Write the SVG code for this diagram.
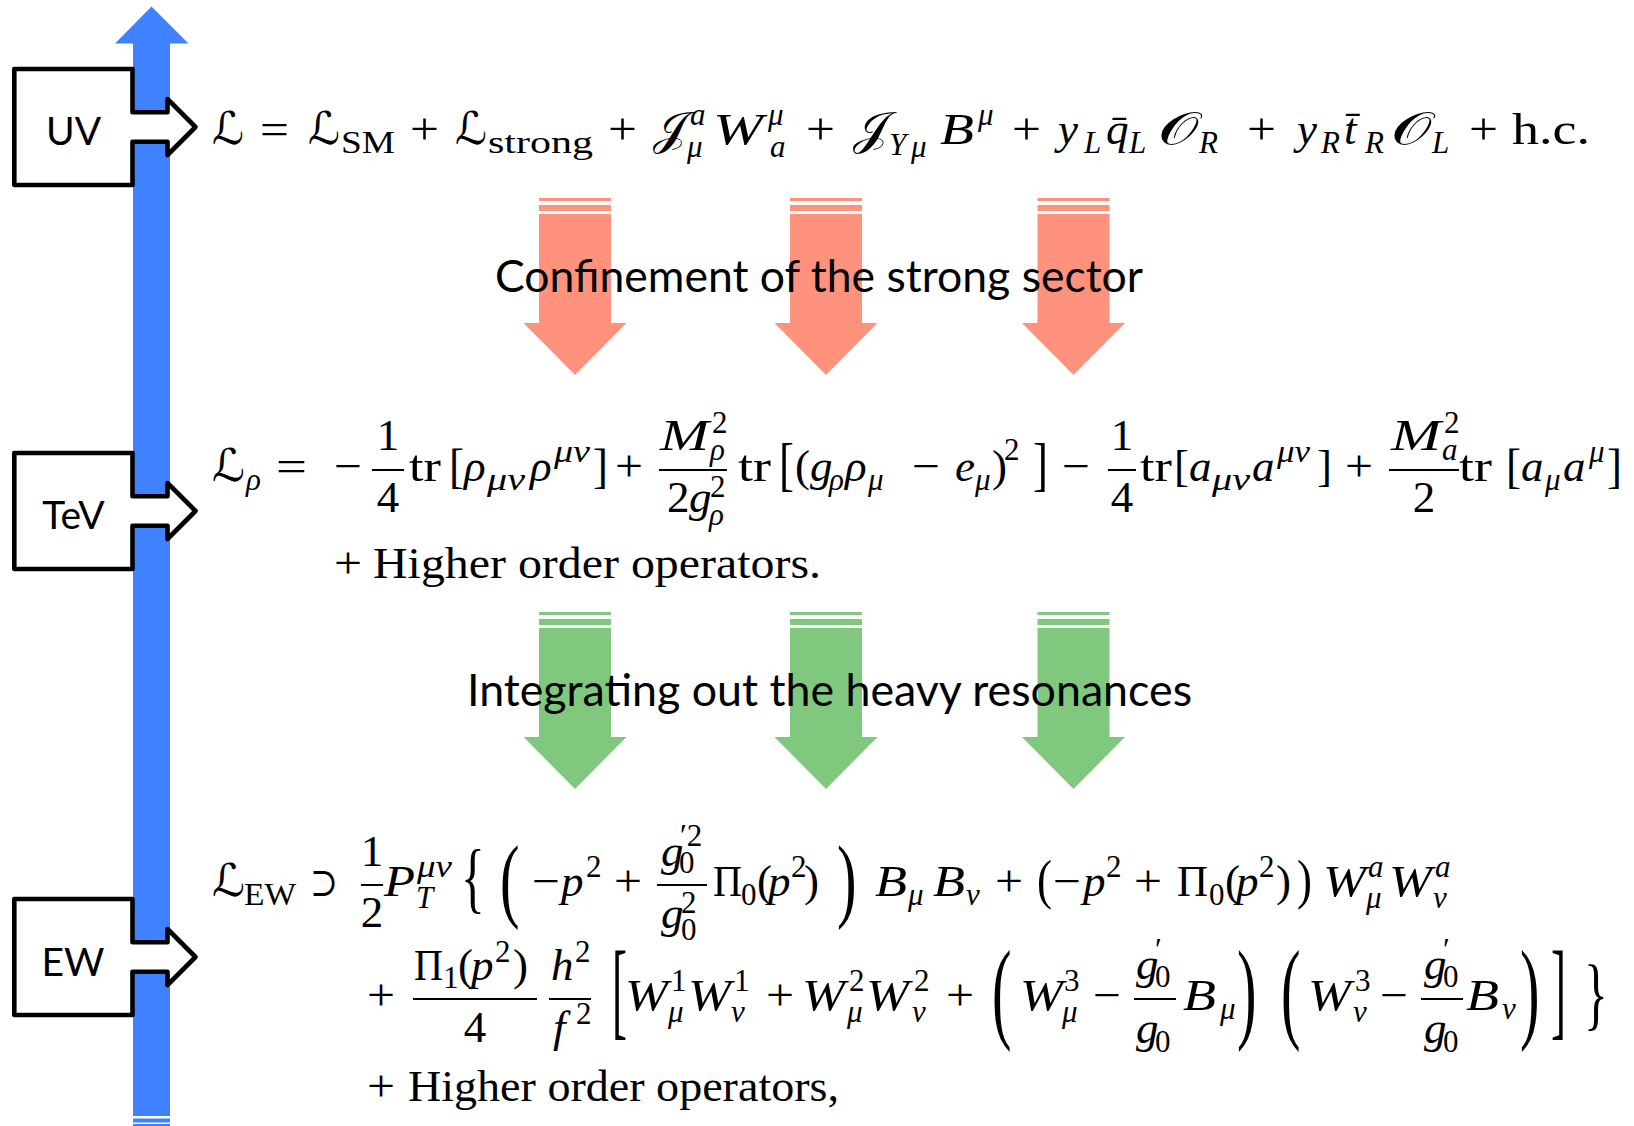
<svg xmlns="http://www.w3.org/2000/svg" xmlns:xlink="http://www.w3.org/1999/xlink" width="1634" height="1126" viewBox="0 0 1634 1126">
<style>
.r{font-family:"Liberation Serif",serif;font-size:45px;font-style:normal;fill:#000}
.i{font-family:"Liberation Serif",serif;font-style:italic;font-size:45px;fill:#000}
.rs{font-family:"Liberation Serif",serif;font-style:normal;font-size:31px;fill:#000}
.is{font-family:"Liberation Serif",serif;font-style:italic;font-size:31px;fill:#000}
.sc{font-family:"DejaVu Serif","DejaVu Sans","Noto Sans",serif;font-size:45px;fill:#000}
.sy{font-family:"DejaVu Serif","DejaVu Sans",serif;font-size:40px;fill:#000}
.lbl{font-family:Lato,"Open Sans",sans-serif;font-size:39px;fill:#000}
.cap{font-family:Lato,"Open Sans",sans-serif;font-size:45px;fill:#000}
.bar{fill:#000}
.box{fill:#fff;stroke:#000;stroke-width:4.6;stroke-linejoin:round}
</style>
<defs>
<path id="callout" d="M14.3,-58 H132.5 V-14.7 H167.5 V-28 L195.5,0 L167.5,28 V14.7 H132.5 V58 H14.3 Z"/>
<g id="dnArrow"><rect x="-36" y="0" width="72" height="3"/><rect x="-36" y="7" width="72" height="6"/><path d="M-36,16 H36 V125 H51.5 L0,177 L-51.5,125 H-36 Z"/></g>
</defs>
<rect width="1634" height="1126" fill="#fff"/>

<g id="scale-axis" fill="#4081ff">
<path d="M133,1116 V43.5 H115 L151.5,6.5 L188.5,43.5 H170 V1116 Z"/>
<rect x="133" y="1118.5" width="37" height="4"/>
<rect x="133" y="1124" width="37" height="2"/>
</g>

<g id="connectors">
<g fill="#ff927c">
<use xlink:href="#dnArrow" transform="translate(575,198)"/>
<use xlink:href="#dnArrow" transform="translate(826,198)"/>
<use xlink:href="#dnArrow" transform="translate(1073.5,198)"/>
</g>
<g fill="#80c87e">
<use xlink:href="#dnArrow" transform="translate(575,612)"/>
<use xlink:href="#dnArrow" transform="translate(826,612)"/>
<use xlink:href="#dnArrow" transform="translate(1073.5,612)"/>
</g>
</g>

<g id="node-uv">
<use xlink:href="#callout" class="box" transform="translate(0,127)"/>
<text class="lbl" x="73.5" y="145" text-anchor="middle">UV</text>
</g>
<g id="node-tev">
<use xlink:href="#callout" class="box" transform="translate(0,511)"/>
<text class="lbl" x="73.5" y="529" text-anchor="middle">TeV</text>
</g>
<g id="node-ew">
<use xlink:href="#callout" class="box" transform="translate(0,957)"/>
<text class="lbl" x="73" y="976" text-anchor="middle">EW</text>
</g>

<g id="caption-confinement">
<text class="cap" x="495" y="292" textLength="648" lengthAdjust="spacingAndGlyphs">Confinement of the strong sector</text>
</g>
<g id="caption-integrating">
<text class="cap" x="467" y="706" textLength="725" lengthAdjust="spacingAndGlyphs">Integrating out the heavy resonances</text>
</g>

<g id="eq-uv">
<text class="sc" x="212" y="144" textLength="32" lengthAdjust="spacingAndGlyphs">ℒ</text>
<text class="r" x="260" y="144" textLength="29" lengthAdjust="spacingAndGlyphs">=</text>
<text class="sc" x="308" y="144"><tspan textLength="32" lengthAdjust="spacingAndGlyphs">ℒ</tspan><tspan class="rs" x="341" y="153" textLength="54" lengthAdjust="spacingAndGlyphs">SM</tspan></text>
<text class="r" x="410" y="144" textLength="29" lengthAdjust="spacingAndGlyphs">+</text>
<text class="sc" x="455" y="144"><tspan textLength="32" lengthAdjust="spacingAndGlyphs">ℒ</tspan><tspan class="rs" x="488" y="153" textLength="105" lengthAdjust="spacingAndGlyphs">strong</tspan></text>
<text class="r" x="608" y="144" textLength="29" lengthAdjust="spacingAndGlyphs">+</text>
<text class="sc" x="653" y="144"><tspan textLength="34" lengthAdjust="spacingAndGlyphs">𝒥</tspan><tspan class="is" x="690" y="125">a</tspan><tspan class="is" x="687" y="157">μ</tspan></text>
<text class="i" x="713" y="144"><tspan textLength="50" lengthAdjust="spacingAndGlyphs">W</tspan><tspan class="is" x="768" y="125">μ</tspan><tspan class="is" x="770" y="157">a</tspan></text>
<text class="r" x="806" y="144" textLength="29" lengthAdjust="spacingAndGlyphs">+</text>
<text class="sc" x="853" y="144"><tspan textLength="36" lengthAdjust="spacingAndGlyphs">𝒥</tspan><tspan class="is" x="889" y="155">Y</tspan><tspan class="is" x="911" y="157">μ</tspan></text>
<text class="i" x="940" y="144"><tspan textLength="34" lengthAdjust="spacingAndGlyphs">B</tspan><tspan class="is" x="978" y="125">μ</tspan></text>
<text class="r" x="1012" y="144" textLength="29" lengthAdjust="spacingAndGlyphs">+</text>
<text class="i" x="1058" y="144">y<tspan class="is" x="1084" y="153">L</tspan></text>
<text class="i" x="1106" y="144">q̄<tspan class="is" x="1129" y="153">L</tspan></text>
<text class="sc" x="1158" y="144"><tspan textLength="40" lengthAdjust="spacingAndGlyphs">𝒪</tspan><tspan class="is" x="1199" y="153">R</tspan></text>
<text class="r" x="1247" y="144" textLength="29" lengthAdjust="spacingAndGlyphs">+</text>
<text class="i" x="1297" y="144">y<tspan class="is" x="1321" y="153">R</tspan></text>
<text class="i" x="1344" y="144">t̄<tspan class="is" x="1365" y="153">R</tspan></text>
<text class="sc" x="1391" y="144"><tspan textLength="40" lengthAdjust="spacingAndGlyphs">𝒪</tspan><tspan class="is" x="1432" y="153">L</tspan></text>
<text class="r" x="1469" y="144" textLength="29" lengthAdjust="spacingAndGlyphs">+</text>
<text class="r" x="1512" y="144" textLength="78" lengthAdjust="spacingAndGlyphs">h.c.</text>
</g>

<g id="eq-tev">
<text class="sc" x="212" y="481"><tspan textLength="33" lengthAdjust="spacingAndGlyphs">ℒ</tspan><tspan class="is" x="246" y="490">ρ</tspan></text>
<text class="r" x="276" y="481" textLength="31" lengthAdjust="spacingAndGlyphs">=</text>
<text class="r" x="334" y="481" textLength="28" lengthAdjust="spacingAndGlyphs">−</text>
<rect class="bar" x="372" y="469" width="32" height="2"/>
<text class="r" x="388" y="450" text-anchor="middle">1</text>
<text class="r" x="388" y="512" text-anchor="middle">4</text>
<text class="r" x="409" y="481" textLength="32" lengthAdjust="spacingAndGlyphs">tr</text>
<text class="r" transform="translate(449,470) scale(1,1.1)" y="11">[</text>
<text class="i" x="464" y="481">ρ<tspan class="is" x="487" y="490" textLength="38" lengthAdjust="spacingAndGlyphs">μν</tspan></text>
<text class="i" x="530" y="481">ρ<tspan class="is" x="554" y="462" textLength="36" lengthAdjust="spacingAndGlyphs">μν</tspan></text>
<text class="r" transform="translate(593,470) scale(1,1.1)" y="11">]</text>
<text class="r" x="615" y="481" textLength="28" lengthAdjust="spacingAndGlyphs">+</text>
<rect class="bar" x="659" y="469" width="68" height="2"/>
<text class="i" x="660" y="450"><tspan textLength="49" lengthAdjust="spacingAndGlyphs">M</tspan><tspan class="rs" x="712" y="433">2</tspan><tspan class="is" x="710" y="460">ρ</tspan></text>
<text class="r" x="667" y="512">2<tspan class="i" x="689" y="512">g</tspan><tspan class="rs" x="710" y="497">2</tspan><tspan class="is" x="709" y="525">ρ</tspan></text>
<text class="r" x="738" y="481" textLength="33" lengthAdjust="spacingAndGlyphs">tr</text>
<text class="r" transform="translate(779,470) scale(1,1.3)" y="11">[</text>
<text class="r" x="795" y="481">(</text>
<text class="i" x="810" y="481">g<tspan class="is" x="829" y="490">ρ</tspan></text>
<text class="i" x="845" y="481">ρ<tspan class="is" x="868" y="490">μ</tspan></text>
<text class="r" x="912" y="481" textLength="28" lengthAdjust="spacingAndGlyphs">−</text>
<text class="i" x="955" y="481">e<tspan class="is" x="975" y="490">μ</tspan></text>
<text class="r" x="992" y="481">)<tspan class="rs" x="1004" y="460">2</tspan></text>
<text class="r" transform="translate(1033,470) scale(1,1.3)" y="11">]</text>
<text class="r" x="1062" y="481" textLength="28" lengthAdjust="spacingAndGlyphs">−</text>
<rect class="bar" x="1108" y="469" width="28" height="2"/>
<text class="r" x="1122" y="450" text-anchor="middle">1</text>
<text class="r" x="1122" y="512" text-anchor="middle">4</text>
<text class="r" x="1140" y="481" textLength="32" lengthAdjust="spacingAndGlyphs">tr</text>
<text class="r" x="1174" y="481">[</text>
<text class="i" x="1189" y="481">a<tspan class="is" x="1212" y="490" textLength="38" lengthAdjust="spacingAndGlyphs">μν</tspan></text>
<text class="i" x="1252" y="481">a<tspan class="is" x="1277" y="462" textLength="33" lengthAdjust="spacingAndGlyphs">μν</tspan></text>
<text class="r" x="1317" y="481">]</text>
<text class="r" x="1345" y="481" textLength="28" lengthAdjust="spacingAndGlyphs">+</text>
<rect class="bar" x="1389" y="469" width="70" height="2"/>
<text class="i" x="1391" y="450"><tspan textLength="50" lengthAdjust="spacingAndGlyphs">M</tspan><tspan class="rs" x="1444" y="433">2</tspan><tspan class="is" x="1442" y="460">a</tspan></text>
<text class="r" x="1424" y="512" text-anchor="middle">2</text>
<text class="r" x="1459" y="481" textLength="33" lengthAdjust="spacingAndGlyphs">tr</text>
<text class="r" transform="translate(1506,470) scale(1,1.1)" y="11">[</text>
<text class="i" x="1521" y="481">a<tspan class="is" x="1545" y="490">μ</tspan></text>
<text class="i" x="1563" y="481">a<tspan class="is" x="1589" y="462">μ</tspan></text>
<text class="r" transform="translate(1607,470) scale(1,1.1)" y="11">]</text>
<text class="r" x="334" y="578" textLength="28" lengthAdjust="spacingAndGlyphs">+</text>
<text class="r" x="373" y="578" textLength="448" lengthAdjust="spacingAndGlyphs">Higher order operators.</text>
</g>

<g id="eq-ew">
<text class="sc" x="212" y="896"><tspan textLength="33" lengthAdjust="spacingAndGlyphs">ℒ</tspan><tspan class="rs" x="244" y="905" textLength="52" lengthAdjust="spacingAndGlyphs">EW</tspan></text>
<text class="sy" x="310" y="896" textLength="28" lengthAdjust="spacingAndGlyphs">⊃</text>
<rect class="bar" x="361" y="884" width="22" height="2"/>
<text class="r" x="372" y="866" text-anchor="middle">1</text>
<text class="r" x="372" y="927" text-anchor="middle">2</text>
<text class="i" x="384" y="896"><tspan textLength="31" lengthAdjust="spacingAndGlyphs">P</tspan><tspan class="is" x="417" y="877" textLength="35" lengthAdjust="spacingAndGlyphs">μν</tspan><tspan class="is" x="416" y="908">T</tspan></text>
<text class="r" transform="translate(461,885) scale(1.1,1.75)" y="11">{</text>
<text class="r" transform="translate(500,887) scale(1.3,2.05)" y="11">(</text>
<text class="r" x="532" y="896" textLength="28" lengthAdjust="spacingAndGlyphs">−</text>
<text class="i" x="561" y="896">p<tspan class="rs" x="586" y="877">2</tspan></text>
<text class="r" x="614" y="896" textLength="28" lengthAdjust="spacingAndGlyphs">+</text>
<rect class="bar" x="657" y="884" width="50" height="2"/>
<text class="i" x="661" y="866">g<tspan class="rs" x="680" y="846">′2</tspan><tspan class="rs" x="679" y="873">0</tspan></text>
<text class="i" x="661" y="928">g<tspan class="rs" x="681" y="913">2</tspan><tspan class="rs" x="681" y="940">0</tspan></text>
<text class="r" x="713" y="896"><tspan textLength="29" lengthAdjust="spacingAndGlyphs">Π</tspan><tspan class="rs" x="741" y="905">0</tspan></text>
<text class="r" x="757" y="896">(<tspan class="i" x="768" y="896">p</tspan><tspan class="rs" x="791" y="877">2</tspan><tspan x="804" y="896">)</tspan></text>
<text class="r" transform="translate(837,887) scale(1.3,2.05)" y="11">)</text>
<text class="i" x="875" y="896"><tspan textLength="32" lengthAdjust="spacingAndGlyphs">B</tspan><tspan class="is" x="908" y="905">μ</tspan></text>
<text class="i" x="933" y="896"><tspan textLength="32" lengthAdjust="spacingAndGlyphs">B</tspan><tspan class="is" x="966" y="905">ν</tspan></text>
<text class="r" x="995" y="896" textLength="28" lengthAdjust="spacingAndGlyphs">+</text>
<text class="r" transform="translate(1037,885) scale(1,1.2)" y="11">(</text>
<text class="r" x="1053" y="896" textLength="28" lengthAdjust="spacingAndGlyphs">−</text>
<text class="i" x="1083" y="896">p<tspan class="rs" x="1106" y="877">2</tspan></text>
<text class="r" x="1134" y="896" textLength="28" lengthAdjust="spacingAndGlyphs">+</text>
<text class="r" x="1177" y="896"><tspan textLength="31" lengthAdjust="spacingAndGlyphs">Π</tspan><tspan class="rs" x="1209" y="905">0</tspan></text>
<text class="r" x="1225" y="896">(<tspan class="i" x="1236" y="896">p</tspan><tspan class="rs" x="1259" y="877">2</tspan><tspan x="1276" y="896">)</tspan></text>
<text class="r" transform="translate(1297,885) scale(1,1.2)" y="11">)</text>
<text class="i" x="1323" y="896"><tspan textLength="43" lengthAdjust="spacingAndGlyphs">W</tspan><tspan class="is" x="1368" y="877">a</tspan><tspan class="is" x="1366" y="908">μ</tspan></text>
<text class="i" x="1389" y="896"><tspan textLength="43" lengthAdjust="spacingAndGlyphs">W</tspan><tspan class="is" x="1435" y="877">a</tspan><tspan class="is" x="1433" y="908">ν</tspan></text>

<text class="r" x="367" y="1010" textLength="28" lengthAdjust="spacingAndGlyphs">+</text>
<rect class="bar" x="413" y="998" width="124" height="2"/>
<text class="r" x="414" y="980"><tspan textLength="29" lengthAdjust="spacingAndGlyphs">Π</tspan><tspan class="rs" x="443" y="988">1</tspan><tspan x="458" y="980">(</tspan><tspan class="i" x="471" y="980">p</tspan><tspan class="rs" x="495" y="962">2</tspan><tspan x="513" y="980">)</tspan></text>
<text class="r" x="475" y="1042" text-anchor="middle">4</text>
<rect class="bar" x="549" y="998" width="42" height="2"/>
<text class="i" x="551" y="980">h<tspan class="rs" x="575" y="962">2</tspan></text>
<text class="i" x="553" y="1042">f<tspan class="rs" x="576" y="1024">2</tspan></text>
<text class="r" transform="translate(612,1000) scale(1,2.4)" y="11">[</text>
<text class="i" x="625" y="1010"><tspan textLength="43" lengthAdjust="spacingAndGlyphs">W</tspan><tspan class="rs" x="671" y="991">1</tspan><tspan class="is" x="668" y="1022">μ</tspan></text>
<text class="i" x="688" y="1010"><tspan textLength="43" lengthAdjust="spacingAndGlyphs">W</tspan><tspan class="rs" x="734" y="991">1</tspan><tspan class="is" x="731" y="1022">ν</tspan></text>
<text class="r" x="766" y="1010" textLength="28" lengthAdjust="spacingAndGlyphs">+</text>
<text class="i" x="802" y="1010"><tspan textLength="43" lengthAdjust="spacingAndGlyphs">W</tspan><tspan class="rs" x="849" y="991">2</tspan><tspan class="is" x="847" y="1022">μ</tspan></text>
<text class="i" x="866" y="1010"><tspan textLength="43" lengthAdjust="spacingAndGlyphs">W</tspan><tspan class="rs" x="914" y="991">2</tspan><tspan class="is" x="912" y="1022">ν</tspan></text>
<text class="r" x="946" y="1010" textLength="28" lengthAdjust="spacingAndGlyphs">+</text>
<text class="r" transform="translate(992,1000) scale(1.3,2.5)" y="11">(</text>
<text class="i" x="1020" y="1010"><tspan textLength="43" lengthAdjust="spacingAndGlyphs">W</tspan><tspan class="rs" x="1064" y="991">3</tspan><tspan class="is" x="1062" y="1022">μ</tspan></text>
<text class="r" x="1093" y="1010" textLength="28" lengthAdjust="spacingAndGlyphs">−</text>
<rect class="bar" x="1134" y="998" width="42" height="2"/>
<text class="i" x="1136" y="979">g<tspan class="rs" x="1155" y="960">′</tspan><tspan class="rs" x="1155" y="987">0</tspan></text>
<text class="i" x="1136" y="1043">g<tspan class="rs" x="1155" y="1052">0</tspan></text>
<text class="i" x="1183" y="1010"><tspan textLength="33" lengthAdjust="spacingAndGlyphs">B</tspan><tspan class="is" x="1220" y="1019">μ</tspan></text>
<text class="r" transform="translate(1237,1000) scale(1.3,2.5)" y="11">)</text>
<text class="r" transform="translate(1281,1000) scale(1.3,2.5)" y="11">(</text>
<text class="i" x="1308" y="1010"><tspan textLength="43" lengthAdjust="spacingAndGlyphs">W</tspan><tspan class="rs" x="1355" y="991">3</tspan><tspan class="is" x="1353" y="1022">ν</tspan></text>
<text class="r" x="1380" y="1010" textLength="28" lengthAdjust="spacingAndGlyphs">−</text>
<rect class="bar" x="1421" y="998" width="42" height="2"/>
<text class="i" x="1424" y="979">g<tspan class="rs" x="1443" y="960">′</tspan><tspan class="rs" x="1443" y="987">0</tspan></text>
<text class="i" x="1424" y="1043">g<tspan class="rs" x="1443" y="1052">0</tspan></text>
<text class="i" x="1466" y="1010"><tspan textLength="33" lengthAdjust="spacingAndGlyphs">B</tspan><tspan class="is" x="1502" y="1019">ν</tspan></text>
<text class="r" transform="translate(1520,1000) scale(1.3,2.5)" y="11">)</text>
<text class="r" transform="translate(1551,1000) scale(1,2.4)" y="11">]</text>
<text class="r" transform="translate(1584,1000) scale(1.1,1.8)" y="11">}</text>

<text class="r" x="367" y="1101" textLength="28" lengthAdjust="spacingAndGlyphs">+</text>
<text class="r" x="408" y="1101" textLength="431" lengthAdjust="spacingAndGlyphs">Higher order operators,</text>
</g>
</svg>
